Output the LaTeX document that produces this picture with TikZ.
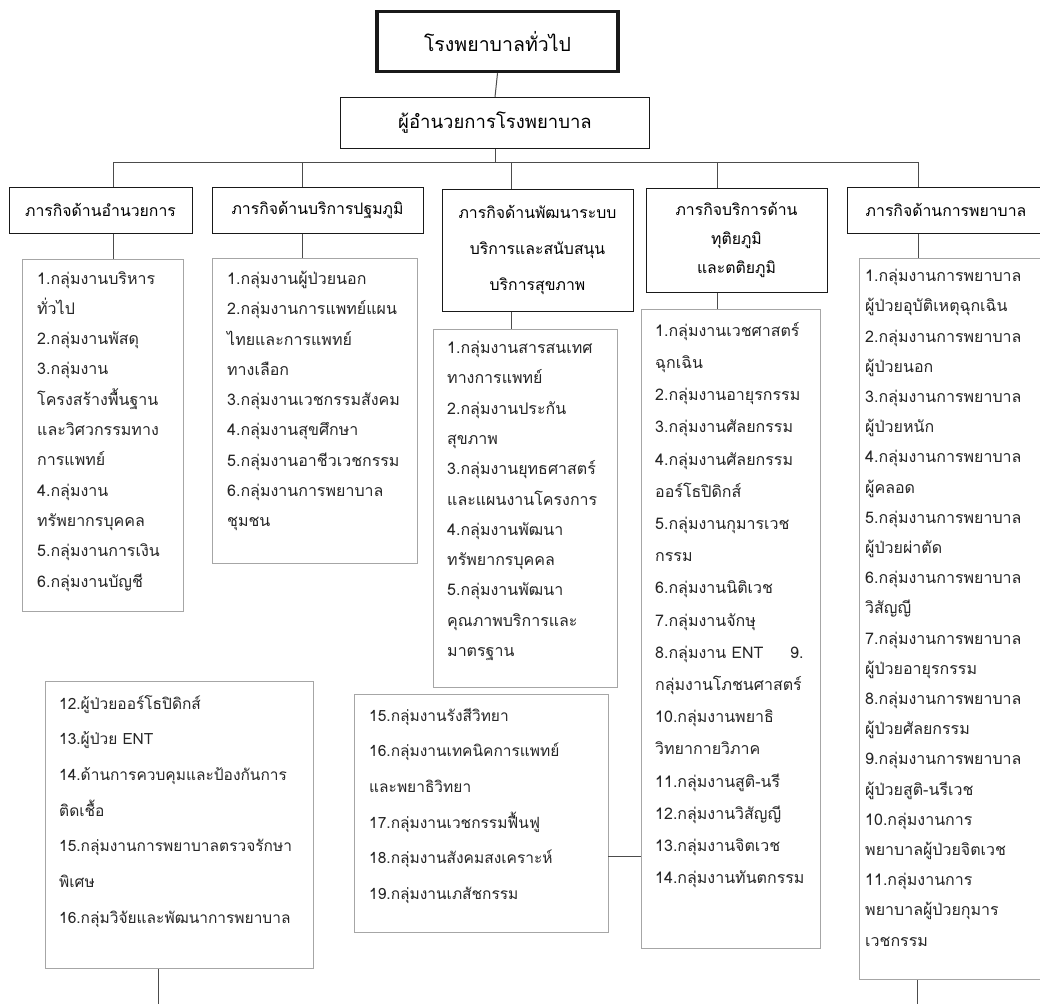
\documentclass[tikz,border=0pt]{standalone}
\usepackage{fontspec}
\setmainfont[Script=Thai]{Loma}
\usetikzlibrary{positioning,calc}
\newcommand{\boxcolor}{black!35}
\newcommand{\linecolor}{black!70}
\newcommand{\itemsize}{16}

\tikzset{
  mainbox/.style={draw=black!90, line width=1pt, inner sep=0pt, align=center, font=\fontsize{15.8}{29}\selectfont},
  groupbox/.style={draw=\boxcolor, line width=1pt, anchor=north west, inner sep=0pt},
  grouptext/.style={anchor=north west, inner sep=0pt, align=left, text=black!85},
  link/.style={draw=\linecolor, line width=1pt}
}

\begin{document}
\begin{tikzpicture}[x=1pt, y=-1pt]
\useasboundingbox[fill=white] (0,0) rectangle (1040,1003);
%top
\node[mainbox] (top) at (497.5,41.5) [minimum width=241pt, minimum height=60pt, line width=3.5pt, font=\fontsize{19.5}{22}\selectfont] {โรงพยาบาลทั่วไป};
\node[mainbox] (dir) at (495,123) [minimum width=309pt, minimum height=51pt, font=\fontsize{18.5}{22}\selectfont] {ผู้อำนวยการโรงพยาบาล};
%missions
\node[mainbox] (m1) at (100.5,210) [minimum width=183pt, minimum height=46pt] {ภารกิจด้านอำนวยการ};
\node[mainbox] (m2) at (317.5,210) [minimum width=211pt, minimum height=46pt] {ภารกิจด้านบริการปฐมภูมิ};
\node[mainbox] (m3) at (537.5,250) [minimum width=191pt, minimum height=122pt, font=\fontsize{15.8}{36}\selectfont] {ภารกิจด้านพัฒนาระบบ\\บริการและสนับสนุน\\บริการสุขภาพ};
\node[mainbox] (m4) at (736.5,240) [minimum width=181pt, minimum height=104pt] {ภารกิจบริการด้าน\\ทุติยภูมิ\\และตติยภูมิ};
\node[mainbox] (m5) at (946,210) [minimum width=198pt, minimum height=46pt] {ภารกิจด้านการพยาบาล};
%groups
\node[groupbox] (g1) at (22,259) [minimum width=161pt, minimum height=352pt] {};
\node[groupbox] (g2) at (212,258) [minimum width=205pt, minimum height=305pt] {};
\node[groupbox] (g3) at (433,329) [minimum width=184pt, minimum height=358pt] {};
\node[groupbox] (g4) at (641,309) [minimum width=179pt, minimum height=639pt] {};
\node[groupbox] (g5) at (859,258) [minimum width=190pt, minimum height=721pt] {};
\node[groupbox] (g6) at (45,681) [minimum width=268pt, minimum height=287pt] {};
\node[groupbox] (g7) at (354,694) [minimum width=254pt, minimum height=238pt] {};
%group texts
\node[grouptext] (t1) at (37,271) [font=\fontsize{\itemsize}{30.3}\selectfont] {1.กลุ่มงานบริหาร\\ทั่วไป\\2.กลุ่มงานพัสดุ\\3.กลุ่มงาน\\โครงสร้างพื้นฐาน\\และวิศวกรรมทาง\\การแพทย์\\4.กลุ่มงาน\\ทรัพยากรบุคคล\\5.กลุ่มงานการเงิน\\6.กลุ่มงานบัญชี};
\node[grouptext] (t2) at (227,271) [font=\fontsize{\itemsize}{30.25}\selectfont] {1.กลุ่มงานผู้ป่วยนอก\\2.กลุ่มงานการแพทย์แผน\\ไทยและการแพทย์\\ทางเลือก\\3.กลุ่มงานเวชกรรมสังคม\\4.กลุ่มงานสุขศึกษา\\5.กลุ่มงานอาชีวเวชกรรม\\6.กลุ่มงานการพยาบาล\\ชุมชน};
\node[grouptext] (t3) at (447,341) [font=\fontsize{\itemsize}{30.3}\selectfont] {1.กลุ่มงานสารสนเทศ\\ทางการแพทย์\\2.กลุ่มงานประกัน\\สุขภาพ\\3.กลุ่มงานยุทธศาสตร์\\และแผนงานโครงการ\\4.กลุ่มงานพัฒนา\\ทรัพยากรบุคคล\\5.กลุ่มงานพัฒนา\\คุณภาพบริการและ\\มาตรฐาน};
\node[grouptext] (t4) at (655,322) [font=\fontsize{\itemsize}{32.2}\selectfont] {1.กลุ่มงานเวชศาสตร์\\ฉุกเฉิน\\2.กลุ่มงานอายุรกรรม\\3.กลุ่มงานศัลยกรรม\\4.กลุ่มงานศัลยกรรม\\ออร์โธปิดิกส์\\5.กลุ่มงานกุมารเวช\\กรรม\\6.กลุ่มงานนิติเวช\\7.กลุ่มงานจักษุ\\\makebox[135pt][l]{8.กลุ่มงาน ENT}9.\\กลุ่มงานโภชนศาสตร์\\10.กลุ่มงานพยาธิ\\วิทยากายวิภาค\\11.กลุ่มงานสูติ-นรี\\12.กลุ่มงานวิสัญญี\\13.กลุ่มงานจิตเวช\\14.กลุ่มงานทันตกรรม};
\node[grouptext] (t5) at (865,269) [font=\fontsize{\itemsize}{30.2}\selectfont] {1.กลุ่มงานการพยาบาล\\ผู้ป่วยอุบัติเหตุฉุกเฉิน\\2.กลุ่มงานการพยาบาล\\ผู้ป่วยนอก\\3.กลุ่มงานการพยาบาล\\ผู้ป่วยหนัก\\4.กลุ่มงานการพยาบาล\\ผู้คลอด\\5.กลุ่มงานการพยาบาล\\ผู้ป่วยผ่าตัด\\6.กลุ่มงานการพยาบาล\\วิสัญญี\\7.กลุ่มงานการพยาบาล\\ผู้ป่วยอายุรกรรม\\8.กลุ่มงานการพยาบาล\\ผู้ป่วยศัลยกรรม\\9.กลุ่มงานการพยาบาล\\ผู้ป่วยสูติ-นรีเวช\\10.กลุ่มงานการ\\พยาบาลผู้ป่วยจิตเวช\\11.กลุ่มงานการ\\พยาบาลผู้ป่วยกุมาร\\เวชกรรม};
\node[grouptext] (t6) at (59,695) [font=\fontsize{15.5}{35.7}\selectfont] {12.ผู้ป่วยออร์โธปิดิกส์\\13.ผู้ป่วย ENT\\14.ด้านการควบคุมและป้องกันการ\\ติดเชื้อ\\15.กลุ่มงานการพยาบาลตรวจรักษา\\พิเศษ\\16.กลุ่มวิจัยและพัฒนาการพยาบาล};
\node[grouptext] (t7) at (369,708) [font=\fontsize{15.5}{35.6}\selectfont] {15.กลุ่มงานรังสีวิทยา\\16.กลุ่มงานเทคนิคการแพทย์\\และพยาธิวิทยา\\17.กลุ่มงานเวชกรรมฟื้นฟู\\18.กลุ่มงานสังคมสงเคราะห์\\19.กลุ่มงานเภสัชกรรม};
%links
\coordinate (c1) at (113,163);
\coordinate (c2) at (302,163);
\coordinate (c3) at (511,163);
\coordinate (c4) at (717,163);
\coordinate (c5) at (918,163);
\draw[link] (top.south) -- (dir.north);
\draw[link] (dir.south) -- (dir.south |- c1);
\draw[link] (c1 |- m1.north) -- (c1) -- (c5) -- (c5 |- m5.north);
\draw[link] (c2) -- (c2 |- m2.north);
\draw[link] (c3) -- (c3 |- m3.north);
\draw[link] (c4) -- (c4 |- m4.north);
\draw[link] (c1 |- m1.south) -- (c1 |- g1.north);
\draw[link] (c2 |- m2.south) -- (c2 |- g2.north);
\draw[link] (c3 |- m3.south) -- (c3 |- g3.north);
\draw[link] (c4 |- m4.south) -- (c4 |- g4.north);
\draw[link] (c5 |- m5.south) -- (c5 |- g5.north);
\coordinate (gd) at (608,856);
\draw[link] (gd) -- (gd -| g4.west);
\coordinate (endF) at (158,1010);
\coordinate (endE) at (917,1010);
\draw[link] (endF |- g6.south) -- (endF);
\draw[link] (endE |- g5.south) -- (endE);
\end{tikzpicture}
\end{document}
